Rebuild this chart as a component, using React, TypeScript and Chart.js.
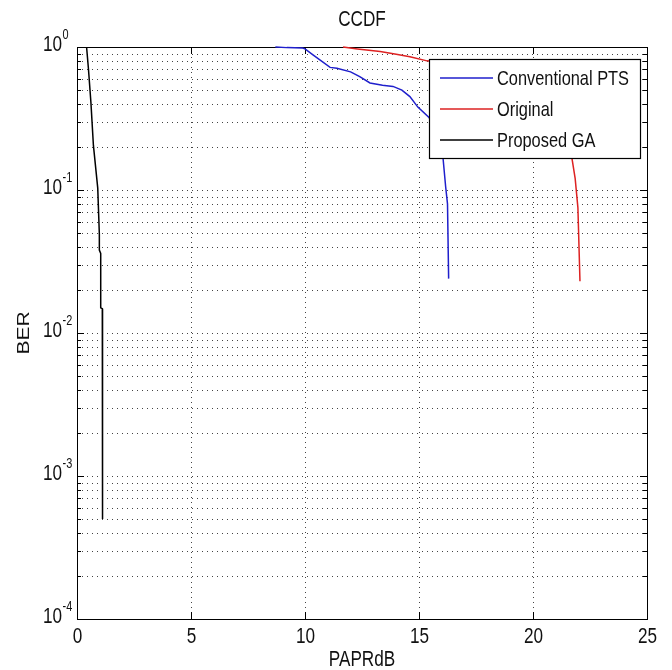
import React, { useEffect, useRef } from "react";
import { Chart, registerables } from "chart.js";

Chart.register(...registerables);

const TITLE = "CCDF";
const X_LABEL = "PAPRdB";
const Y_LABEL = "BER";
const SERIES_NAMES = ["Conventional PTS", "Original", "Proposed GA"];
const SERIES_COLORS = ["#1f1fcc", "#dd2222", "#000000"];

const X_TICKS = [0, 5, 10, 15, 20, 25];
const Y_DECADES = [0, -1, -2, -3, -4];

const convX = [8.7, 9.2, 9.9, 10.0, 10.35, 11.1, 11.4, 12.0, 12.4, 12.85, 13.4, 13.86, 14.25, 14.6, 14.95, 15.45, 15.75, 16.05, 16.17, 16.25, 16.3];
const convY = [1.0, 0.99, 0.985, 0.97, 0.88, 0.72, 0.71, 0.67, 0.62, 0.56, 0.54, 0.53, 0.5, 0.45, 0.38, 0.32, 0.24, 0.17, 0.105, 0.08, 0.024];

const origX = [11.67, 12.3, 13.3, 14.0, 14.6, 15.35, 17.0, 18.5, 19.5, 20.5, 21.2, 21.7, 21.85, 21.97, 22.06];
const origY = [1.0, 0.97, 0.93, 0.89, 0.855, 0.8, 0.74, 0.62, 0.5, 0.36, 0.25, 0.17, 0.12, 0.075, 0.023];

const gaX = [0.42, 0.5, 0.61, 0.72, 0.91, 0.98, 0.98, 1.04, 1.04, 1.11, 1.12];
const gaY = [1.0, 0.71, 0.41, 0.205, 0.103, 0.049, 0.038, 0.036, 0.015, 0.0148, 0.0005];

const FONT = '"Liberation Sans", Arial, sans-serif';
const SX = 0.78;

function drawText(ctx: CanvasRenderingContext2D, text: string, x: number, y: number, size: number, align: CanvasTextAlign, baseline: CanvasTextBaseline = "alphabetic") {
  ctx.save();
  ctx.translate(x, y);
  ctx.scale(SX, 1);
  ctx.font = `${size}px ${FONT}`;
  ctx.textAlign = align;
  ctx.textBaseline = baseline;
  ctx.fillStyle = "#111";
  ctx.fillText(text, 0, 0);
  ctx.restore();
}

const matlabPlugin = {
  id: "matlabLook",
  beforeDatasetsDraw(chart: any) {
    const { ctx, chartArea: a, scales } = chart;
    const xs = scales.x;
    const ys = scales.y;
    ctx.save();
    ctx.strokeStyle = "#444";
    ctx.lineWidth = 1;
    ctx.setLineDash([1, 4]);
    for (const t of X_TICKS) {
      if (t === X_TICKS[0] || t === X_TICKS[X_TICKS.length - 1]) continue;
      const px = Math.round(xs.getPixelForValue(t)) + 0.5;
      ctx.beginPath();
      ctx.moveTo(px, a.top);
      ctx.lineTo(px, a.bottom);
      ctx.stroke();
    }
    for (let d = -4; d < 0; d++) {
      for (let m = 1; m <= 9; m++) {
        const v = m * Math.pow(10, d);
        if (d === -4 && m === 1) continue;
        const py = Math.round(ys.getPixelForValue(v)) + 0.5;
        ctx.beginPath();
        ctx.moveTo(a.left, py);
        ctx.lineTo(a.right, py);
        ctx.stroke();
      }
    }
    ctx.setLineDash([]);
    ctx.strokeStyle = "#000";
    ctx.lineWidth = 1;
    ctx.strokeRect(Math.round(a.left) + 0.5, Math.round(a.top) + 0.5, Math.round(a.right - a.left), Math.round(a.bottom - a.top));
    for (const t of X_TICKS) {
      const px = Math.round(xs.getPixelForValue(t)) + 0.5;
      ctx.beginPath();
      ctx.moveTo(px, a.bottom);
      ctx.lineTo(px, a.bottom - 7);
      ctx.moveTo(px, a.top);
      ctx.lineTo(px, a.top + 7);
      ctx.stroke();
    }
    for (let d = -4; d <= 0; d++) {
      for (let m = 1; m <= 9; m++) {
        if (d === 0 && m > 1) break;
        const v = m * Math.pow(10, d);
        const py = Math.round(ys.getPixelForValue(v)) + 0.5;
        const len = m === 1 ? 7 : 4;
        ctx.beginPath();
        ctx.moveTo(a.left, py);
        ctx.lineTo(a.left + len, py);
        ctx.moveTo(a.right, py);
        ctx.lineTo(a.right - len, py);
        ctx.stroke();
      }
    }
    ctx.restore();
  },
  afterDatasetsDraw(chart: any) {
    const { ctx, chartArea: a, scales } = chart;
    const xs = scales.x;
    const ys = scales.y;
    ctx.save();
    for (const t of X_TICKS) {
      const px = Math.round(xs.getPixelForValue(t)) + 0.5;
      drawText(ctx, String(t), px, a.bottom + 24, 22, "center");
    }
    for (const d of Y_DECADES) {
      const py = ys.getPixelForValue(Math.pow(10, d));
      drawText(ctx, "10", a.left - 15, py + 4, 22, "right");
      drawText(ctx, String(d), a.left - 14.5, py - 8, 14, "left");
    }
    const cx = (a.left + a.right) / 2;
    drawText(ctx, TITLE, cx, 26, 22, "center");
    drawText(ctx, X_LABEL, cx, 666, 22, "center");
    ctx.save();
    ctx.translate(24, (a.top + a.bottom) / 2);
    ctx.scale(SX, 1);
    ctx.rotate(-Math.PI / 2);
    ctx.font = `21px ${FONT}`;
    ctx.textAlign = "center";
    ctx.textBaseline = "middle";
    ctx.fillStyle = "#111";
    ctx.fillText(Y_LABEL, 0, 0);
    ctx.restore();
    // legend
    const lx = 429, ly = 59, lw = 211, lh = 99;
    ctx.fillStyle = "#fff";
    ctx.fillRect(lx, ly, lw, lh);
    ctx.strokeStyle = "#000";
    ctx.lineWidth = 1.2;
    ctx.strokeRect(lx + 0.5, ly + 0.5, lw, lh);
    const rows = [78, 109, 140];
    SERIES_NAMES.forEach((name, i) => {
      ctx.strokeStyle = SERIES_COLORS[i];
      ctx.lineWidth = 1.5;
      ctx.beginPath();
      ctx.moveTo(440, rows[i]);
      ctx.lineTo(493, rows[i]);
      ctx.stroke();
      drawText(ctx, name, 497, rows[i] + 1, 21, "left", "middle");
    });
    ctx.restore();
  },
};

function pts(xs: number[], ys: number[]) {
  return xs.map((x, i) => ({ x, y: ys[i] }));
}

export default function App() {
  const ref = useRef<HTMLCanvasElement | null>(null);
  useEffect(() => {
    if (!ref.current) return;
    const chart = new Chart(ref.current, {
      type: "line",
      data: {
        datasets: [
          { label: SERIES_NAMES[0], data: pts(convX, convY), borderColor: SERIES_COLORS[0], borderWidth: 1.5, pointRadius: 0, tension: 0, fill: false, clip: 3 },
          { label: SERIES_NAMES[1], data: pts(origX, origY), borderColor: SERIES_COLORS[1], borderWidth: 1.5, pointRadius: 0, tension: 0, fill: false, clip: 3 },
          { label: SERIES_NAMES[2], data: pts(gaX, gaY), borderColor: SERIES_COLORS[2], borderWidth: 1.5, pointRadius: 0, tension: 0, fill: false, clip: 3 },
        ],
      },
      options: {
        responsive: false,
        animation: false,
        devicePixelRatio: 1,
        layout: { padding: { left: 77, top: 47, right: 25, bottom: 51 } },
        plugins: { legend: { display: false }, tooltip: { enabled: false }, title: { display: false } },
        scales: {
          x: { type: "linear", min: 0, max: 25, display: false },
          y: { type: "logarithmic", min: 1e-4, max: 1, display: false },
        },
      },
      plugins: [matlabPlugin],
    } as any);
    return () => chart.destroy();
  }, []);
  return (
    <div style={{ position: "fixed", left: 0, top: 0, width: 672, height: 670, background: "#fff" }}>
      <canvas ref={ref} width={672} height={670} style={{ display: "block" }} />
    </div>
  );
}
